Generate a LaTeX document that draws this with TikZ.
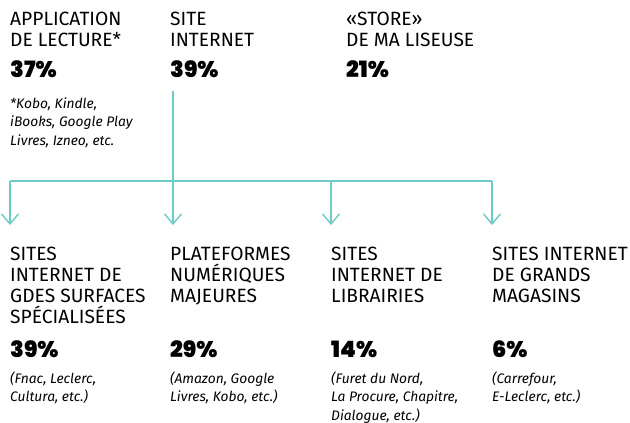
\documentclass[tikz,border=0pt]{standalone}
\usepackage{fontspec}
\usetikzlibrary{arrows.meta}
\setmainfont{Fira Sans}
\IfFontExistsTF{Poppins Black}{\newfontfamily\heavy{Poppins Black}}{\newfontfamily\heavy{Poppins}[UprightFont=*-Bold]}
\definecolor{linecol}{HTML}{6DCAC4}
\newcommand{\ml}[1]{\begin{tabular}[t]{@{}l@{}}#1\end{tabular}}
\begin{document}
\begin{tikzpicture}[x=1pt,y=-1pt,
  head/.style={anchor=base west, inner sep=0pt, font=\fontsize{19.2}{21}\selectfont},
  pct/.style={anchor=base west, inner sep=0pt, font=\heavy\fontsize{22.5}{22.5}\selectfont},
  note/.style={anchor=base west, inner sep=0pt, font=\itshape\fontsize{13.8}{18.7}\selectfont},
  conn/.style={draw=linecol, line width=1.4pt},
  arr/.style={conn, -{Straight Barb[length=10pt,width=17pt,line width=1.4pt]}}
]
\useasboundingbox (0,0) rectangle (630,423);
% top
\node[head] (t1) at (10,25) {\ml{APPLICATION\\DE LECTURE*}};
\node[pct] (p1) at (10,77) {37\%};
\node[note] (n1) at (10,108) {\ml{*Kobo, Kindle,\\iBooks, Google Play\\Livres, Izneo, etc.}};
\node[head] (t2) at (170,25) {\ml{SITE\\INTERNET}};
\node[pct] (p2) at (170,77) {39\%};
\node[head] (t3) at (346,25) {\ml{«STORE»\\DE MA LISEUSE}};
\node[pct] (p3) at (346,77) {21\%};
% bottom
\node[head] (b1) at (10,260) {\ml{SITES\\INTERNET DE\\GDES SURFACES\\\smash{SPÉCIALISÉES}}};
\node[pct] (q1) at (10,357) {39\%};
\node[note] (m1) at (10,383) {\ml{(Fnac, Leclerc,\\Cultura, etc.)}};
\node[head] (b2) at (170,260) {\ml{PLATEFORMES\\\smash{NUMÉRIQUES}\\MAJEURES}};
\node[pct] (q2) at (170,357) {29\%};
\node[note] (m2) at (170,383) {\ml{(Amazon, Google\\Livres, Kobo, etc.)}};
\node[head] (b3) at (331,260) {\ml{SITES\\INTERNET DE\\LIBRAIRIES}};
\node[pct] (q3) at (331,357) {14\%};
\node[note] (m3) at (331,383) {\ml{(Furet du Nord,\\La Procure, Chapitre,\\Dialogue, etc.)}};
\node[head] (b4) at (492,260) {\ml{SITES INTERNET\\DE GRANDS\\MAGASINS}};
\node[pct] (q4) at (492,357) {6\%};
\node[note] (m4) at (492,383) {\ml{(Carrefour,\\E-Leclerc, etc.)}};
% connectors
\coordinate (s) at (173,91);
\coordinate (j) at (173,181);
\coordinate (h1) at (10,181);
\coordinate (h3) at (331,181);
\coordinate (h4) at (492,181);
\coordinate (a1) at (10,225);
\coordinate (a2) at (173,225);
\coordinate (a3) at (331,225);
\coordinate (a4) at (492,225);
\draw[conn] (s) -- (j);
\draw[conn] (h1) -- (h4);
\draw[arr] (h1) -- (a1);
\draw[arr] (j) -- (a2);
\draw[arr] (h3) -- (a3);
\draw[arr] (h4) -- (a4);
\end{tikzpicture}
\end{document}
